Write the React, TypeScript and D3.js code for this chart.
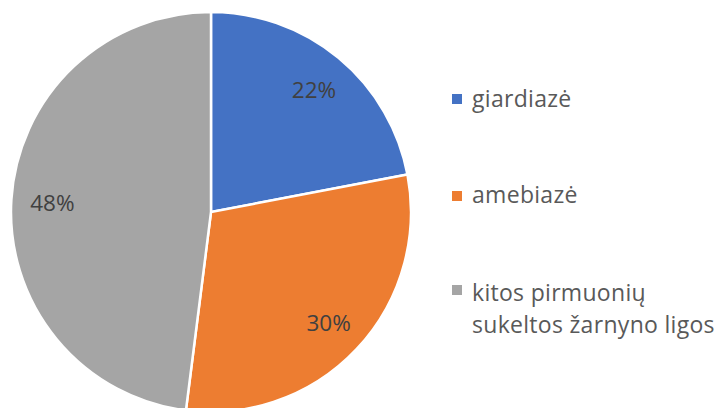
import React from "react";
import * as d3 from "d3";

const categories = ["giardiazė", "amebiazė", "kitos pirmuonių sukeltos žarnyno ligos"];
const values = [22, 30, 48];
const labels = ["22%", "30%", "48%"];
const legendLines = [["giardiazė"], ["amebiazė"], ["kitos pirmuonių", "sukeltos žarnyno ligos"]];
const colors = ["#4472C4", "#ED7D31", "#A5A5A5"];

const W = 723;
const H = 408;

export default function App() {
  const cx = 211;
  const cy = 212;
  const r = 200;
  const pie = d3.pie<number>().sort(null).value((d) => d)(values);
  const arc = d3.arc<d3.PieArcDatum<number>>().innerRadius(0).outerRadius(r);
  const labelArc = d3.arc<d3.PieArcDatum<number>>().innerRadius(160).outerRadius(160);
  const squareY = [99, 196, 290];
  const textY = [107, 203, 301];
  const font = "'Open Sans', sans-serif";
  return (
    <svg
      width={W}
      height={H}
      style={{ position: "absolute", left: 0, top: 0, background: "#fff" }}
    >
      <g transform={`translate(${cx},${cy})`}>
        {pie.map((p, i) => (
          <path key={i} d={arc(p) || ""} fill={colors[i]} stroke="#fff" strokeWidth={2.5} />
        ))}
        {pie.map((p, i) => {
          const [x, y] = labelArc.centroid(p);
          return (
            <text
              key={i}
              x={x + 1}
              y={y + 1}
              dy="0.36em"
              textAnchor="middle"
              fontFamily={font}
              fontSize={22.5}
              fill="#404040"
            >
              {labels[i]}
            </text>
          );
        })}
      </g>
      {categories.map((c, i) => (
        <g key={c}>
          <rect x={452} y={squareY[i] - 5} width={10} height={10} fill={colors[i]} />
          {legendLines[i].map((t, j) => (
            <text
              key={j}
              x={472}
              y={textY[i] + j * 32}
              fontFamily={font}
              fontSize={23}
              letterSpacing={0.3}
              fill="#595959"
            >
              {t}
            </text>
          ))}
        </g>
      ))}
    </svg>
  );
}
